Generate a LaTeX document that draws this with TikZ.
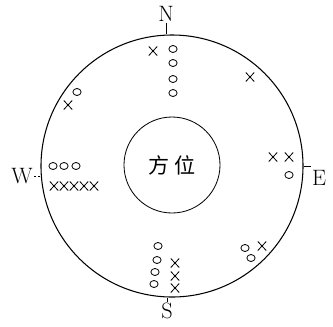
\documentclass[tikz,border=0pt]{standalone}
\usepackage{fontspec}
\newfontfamily\cjk{Noto Sans CJK SC}
\usetikzlibrary{shapes.geometric,shapes.misc}

\tikzset{
  ring/.style={draw, ellipse, inner sep=0pt, minimum width=7pt, minimum height=6pt, line width=0.7pt},
  cross/.style={draw, cross out, inner sep=0pt, minimum width=6.5pt, minimum height=7pt, line width=0.7pt},
  dirlabel/.style={font=\fontsize{19}{19}\selectfont, inner sep=1pt},
  tick/.style={line width=0.5pt}
}

\begin{document}
\begin{tikzpicture}[x=0.03cm,y=-0.03cm]
\useasboundingbox (0,0) rectangle (333,326);

%rims
\node[draw, circle, line width=0.9pt, minimum size=7.86cm] (rim) at (172,166) {};
\node[draw, circle, line width=0.7pt, minimum size=2.88cm, font=\cjk\fontsize{18}{18}\selectfont] (hub) at (172,165) {方\ 位};

%compass letters
\node[dirlabel] (N) at (166,14) {N};
\node[dirlabel] (S) at (167,311) {S};
\node[dirlabel] (W) at (22,176) {W};
\node[dirlabel] (E) at (319,178) {E};
\draw[tick] (N.south) -- (N.south |- rim.north);
\draw[tick, densely dashed] (S.north) -- (S.north |- rim.south);
\draw[tick, dash pattern=on 2pt off 1.5pt] (W.east) -- (W.east -| rim.west);
\draw[tick] (rim.east) -- (E.west |- rim.east);

%north
\node[cross] (n0) at (153,51) {};
\foreach \y [count=\i] in {49,63,79,93}
  \node[ring] (n\i) at (173,\y) {};

%north-east
\node[cross] (ne) at (250,77) {};

%north-west
\node[ring] (nw1) at (77,92) {};
\node[cross] (nw2) at (68,105) {};

%west
\foreach \x [count=\i] in {53,64,76}
  \node[ring] (wo\i) at (\x,166) {};
\foreach \x [count=\i] in {54,64,74,84,94}
  \node[cross] (wx\i) at (\x,186) {};

%east
\node[cross] (ex1) at (273,157) {};
\node[cross] (ex2) at (289,157) {};
\node[ring] (eo) at (289,175) {};

%south-east
\node[ring] (seo1) at (245,248) {};
\node[ring] (seo2) at (251,258) {};
\node[cross] (sex) at (262,246) {};

%south
\foreach \x/\y [count=\i] in {158/246,157/260,155/272,154/284}
  \node[ring] (so\i) at (\x,\y) {};
\foreach \y [count=\i] in {263,276,288}
  \node[cross] (sx\i) at (175,\y) {};

\end{tikzpicture}
\end{document}
